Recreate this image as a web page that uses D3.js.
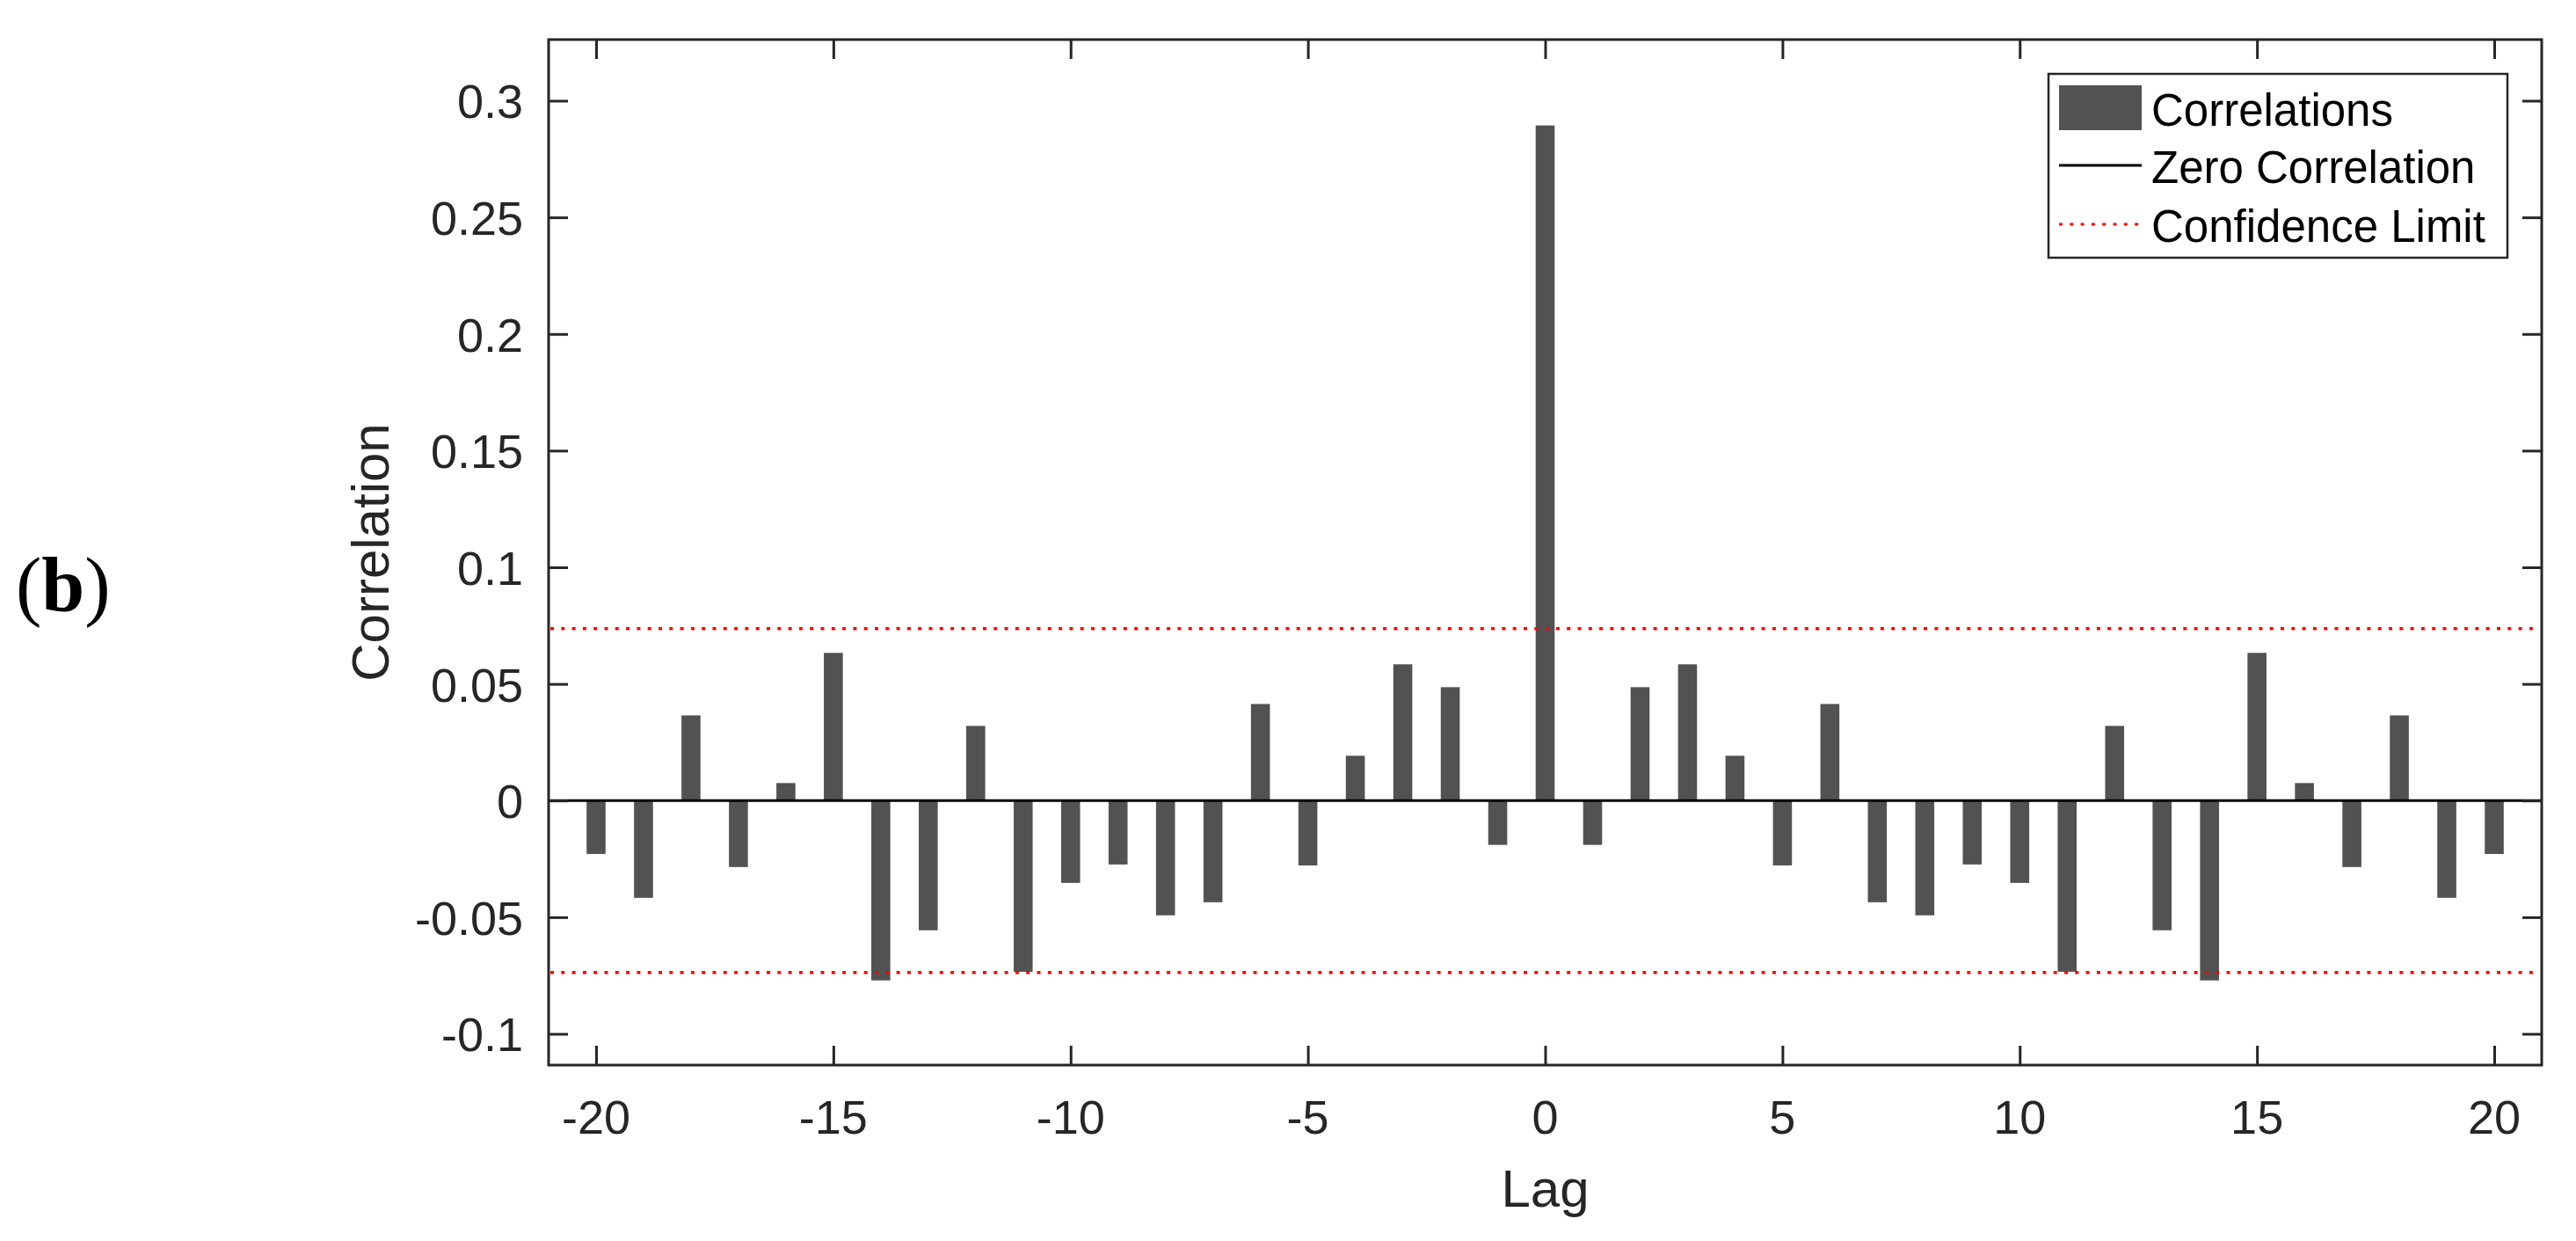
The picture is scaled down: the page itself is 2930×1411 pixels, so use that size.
<!DOCTYPE html>
<html>
<head>
<meta charset="utf-8">
<script src="https://cdn.jsdelivr.net/npm/d3@7"></script>
<style>
  html, body { margin: 0; padding: 0; background: #fff; }
  svg { display: block; }
</style>
</head>
<body>
<svg id="chart" width="2930" height="1411"></svg>
<script>
// ---- data ----
const lags = d3.range(-20, 21);
const correlations = [
  -0.0229, -0.0417, 0.0365, -0.0285, 0.0075, 0.0633, -0.0771, -0.0556, 0.0320, -0.0734,
  -0.0353, -0.0274, -0.0492, -0.0436, 0.0414, -0.0278, 0.0192, 0.0584, 0.0486, -0.0190,
  0.2894,
  -0.0190, 0.0486, 0.0584, 0.0192, -0.0278, 0.0414, -0.0436, -0.0492, -0.0274, -0.0353,
  -0.0734, 0.0320, -0.0556, -0.0771, 0.0633, 0.0075, -0.0285, 0.0365, -0.0417, -0.0229
];
const confidenceLimit = 0.0737;
const xTicks = [-20, -15, -10, -5, 0, 5, 10, 15, 20];
const yTicks = [-0.1, -0.05, 0, 0.05, 0.1, 0.15, 0.2, 0.25, 0.3];
const yTickLabels = ["-0.1", "-0.05", "0", "0.05", "0.1", "0.15", "0.2", "0.25", "0.3"];
const legendLabels = ["Correlations", "Zero Correlation", "Confidence Limit"];

// ---- layout ----
const svg = d3.select("#chart");
const L = 624, R = 2891, T = 45, B = 1211;
const axisColor = "#262626";
const barColor = "#525252";
const font = "'Liberation Sans', Arial, Helvetica, sans-serif";

const x = d3.scaleLinear().domain([-21, 21]).range([L, R]);
const y = d3.scaleLinear().domain([-0.1134, 0.3262]).range([B, T]);

// bars
svg.append("g").selectAll("rect")
  .data(lags.map((l, i) => ({ lag: l, v: correlations[i] })))
  .join("rect")
  .attr("x", d => x(d.lag - 0.2))
  .attr("width", d => x(d.lag + 0.2) - x(d.lag - 0.2))
  .attr("y", d => y(Math.max(0, d.v)))
  .attr("height", d => Math.abs(y(d.v) - y(0)))
  .attr("fill", barColor);

// zero line
svg.append("line")
  .attr("x1", L).attr("x2", R)
  .attr("y1", y(0)).attr("y2", y(0))
  .attr("stroke", "#000").attr("stroke-width", 3);

// confidence limits
[confidenceLimit, -confidenceLimit].forEach(c => {
  svg.append("line")
    .attr("x1", L + 2).attr("x2", R - 4)
    .attr("y1", y(c)).attr("y2", y(c))
    .attr("stroke", "#ff0000").attr("stroke-width", 3.5)
    .attr("stroke-dasharray", "4 8.3");
});

// axes (box with inward ticks on all sides)
const tickLen = 22;
const axisG = svg.append("g");
const xb = d3.axisBottom(x).tickValues(xTicks).tickSize(-tickLen).tickPadding(0).tickFormat("");
const xt = d3.axisTop(x).tickValues(xTicks).tickSize(-tickLen).tickFormat("");
const yl = d3.axisLeft(y).tickValues(yTicks).tickSize(-tickLen).tickFormat("");
const yr = d3.axisRight(y).tickValues(yTicks).tickSize(-tickLen).tickFormat("");
axisG.append("g").attr("transform", `translate(0,${B})`).call(xb);
axisG.append("g").attr("transform", `translate(0,${T})`).call(xt);
axisG.append("g").attr("transform", `translate(${L},0)`).call(yl);
axisG.append("g").attr("transform", `translate(${R},0)`).call(yr);
axisG.selectAll(".domain").remove();
axisG.selectAll(".tick line").attr("stroke", axisColor).attr("stroke-width", 3);
svg.append("rect")
  .attr("x", L).attr("y", T).attr("width", R - L).attr("height", B - T)
  .attr("fill", "none").attr("stroke", axisColor).attr("stroke-width", 3);

// tick labels
svg.append("g").selectAll("text").data(xTicks).join("text")
  .attr("x", d => x(d)).attr("y", 1289)
  .attr("text-anchor", "middle")
  .attr("font-family", font).attr("font-size", 54).attr("fill", axisColor)
  .text(d => String(d));

svg.append("g").selectAll("text").data(yTicks).join("text")
  .attr("x", 595).attr("y", d => y(d) + 20)
  .attr("text-anchor", "end")
  .attr("font-family", font).attr("font-size", 54).attr("fill", axisColor)
  .text((d, i) => yTickLabels[i]);

// axis labels
svg.append("text")
  .attr("x", (L + R) / 2).attr("y", 1372)
  .attr("text-anchor", "middle")
  .attr("font-family", font).attr("font-size", 60).attr("fill", axisColor)
  .text("Lag");
svg.append("text")
  .attr("transform", `translate(442,${(T + B) / 2}) rotate(-90)`)
  .attr("text-anchor", "middle")
  .attr("font-family", font).attr("font-size", 60).attr("fill", axisColor)
  .text("Correlation");

// panel label
const pl = svg.append("text")
  .attr("x", 18).attr("y", 695)
  .attr("font-family", "'Liberation Serif', 'Times New Roman', serif")
  .attr("font-size", 88).attr("fill", "#000");
pl.append("tspan").text("(");
pl.append("tspan").attr("font-weight", "bold").text("b");
pl.append("tspan").text(")");

// legend
const lg = svg.append("g");
lg.append("rect")
  .attr("x", 2330).attr("y", 84).attr("width", 522).attr("height", 209)
  .attr("fill", "#fff").attr("stroke", axisColor).attr("stroke-width", 2.5);
lg.append("rect")
  .attr("x", 2342).attr("y", 97).attr("width", 94).attr("height", 51)
  .attr("fill", barColor);
lg.append("line")
  .attr("x1", 2342).attr("x2", 2436).attr("y1", 188).attr("y2", 188)
  .attr("stroke", "#000").attr("stroke-width", 3);
lg.append("line")
  .attr("x1", 2342).attr("x2", 2436).attr("y1", 255).attr("y2", 255)
  .attr("stroke", "#ff0000").attr("stroke-width", 3)
  .attr("stroke-dasharray", "4 8.3");
const legendBaselines = [143, 208, 275];
lg.selectAll("text.lab").data(legendLabels).join("text")
  .attr("class", "lab")
  .attr("x", 2447).attr("y", (d, i) => legendBaselines[i])
  .attr("font-family", font).attr("font-size", 51).attr("fill", "#000")
  .text(d => d);
</script>
</body>
</html>
